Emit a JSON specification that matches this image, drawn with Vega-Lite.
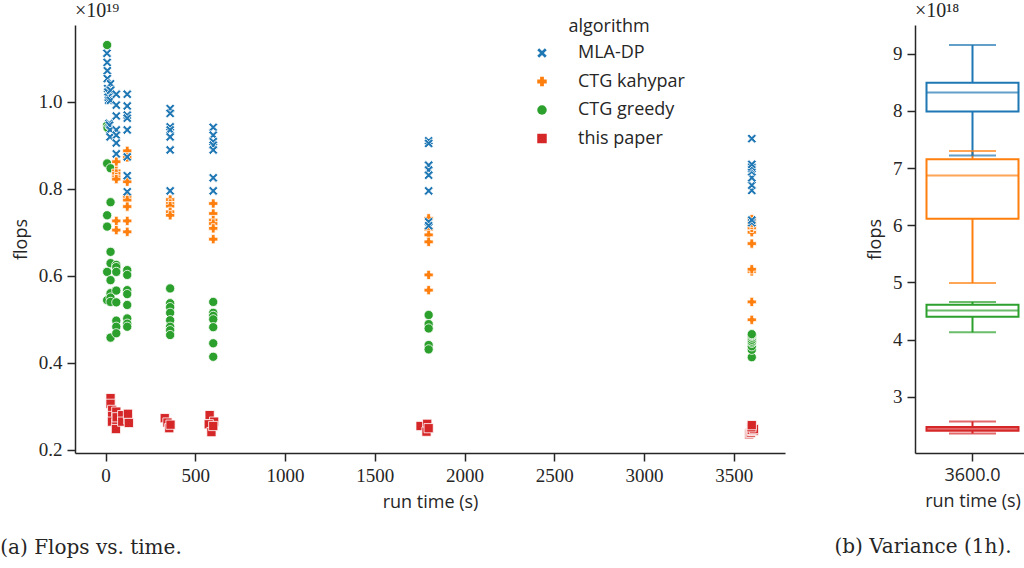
{
  "$schema": "https://vega.github.io/schema/vega-lite/v6.json",
  "padding": {"left": 0, "top": 1, "right": 0, "bottom": 0},
  "config": {
    "view": {"stroke": null},
    "font": "Open Sans",
    "axis": {
      "grid": false,
      "domainColor": "#262626",
      "domainWidth": 1.5,
      "tickColor": "#262626",
      "tickWidth": 1.5,
      "tickSize": 8,
      "labelFont": "Liberation Serif",
      "labelFontSize": 19,
      "labelColor": "#262626",
      "labelPadding": 5,
      "titleFont": "Open Sans",
      "titleFontSize": 18,
      "titleFontWeight": "normal",
      "titleColor": "#262626",
      "titlePadding": 8
    },
    "title": {"color": "#262626", "fontWeight": "normal"}
  },
  "datasets": {
    "runs": [
      {"algorithm": "this paper", "budget": 30, "time": 28, "flops": 3.19e18},
      {"algorithm": "this paper", "budget": 30, "time": 28, "flops": 3.06e18},
      {"algorithm": "this paper", "budget": 30, "time": 37, "flops": 2.92e18},
      {"algorithm": "this paper", "budget": 30, "time": 37, "flops": 2.78e18},
      {"algorithm": "this paper", "budget": 30, "time": 36, "flops": 2.65e18},
      {"algorithm": "this paper", "budget": 60, "time": 60, "flops": 2.88e18},
      {"algorithm": "this paper", "budget": 60, "time": 60, "flops": 2.61e18},
      {"algorithm": "this paper", "budget": 60, "time": 58, "flops": 2.48e18},
      {"algorithm": "this paper", "budget": 60, "time": 62, "flops": 2.75e18},
      {"algorithm": "this paper", "budget": 120, "time": 93, "flops": 2.80e18},
      {"algorithm": "this paper", "budget": 120, "time": 93, "flops": 2.65e18},
      {"algorithm": "this paper", "budget": 120, "time": 127, "flops": 2.70e18},
      {"algorithm": "this paper", "budget": 120, "time": 125, "flops": 2.83e18},
      {"algorithm": "this paper", "budget": 120, "time": 130, "flops": 2.62e18},
      {"algorithm": "this paper", "budget": 360, "time": 330, "flops": 2.73e18},
      {"algorithm": "this paper", "budget": 360, "time": 345, "flops": 2.63e18},
      {"algorithm": "this paper", "budget": 360, "time": 355, "flops": 2.50e18},
      {"algorithm": "this paper", "budget": 360, "time": 362, "flops": 2.58e18},
      {"algorithm": "this paper", "budget": 600, "time": 580, "flops": 2.80e18},
      {"algorithm": "this paper", "budget": 600, "time": 605, "flops": 2.65e18},
      {"algorithm": "this paper", "budget": 600, "time": 575, "flops": 2.59e18},
      {"algorithm": "this paper", "budget": 600, "time": 590, "flops": 2.41e18},
      {"algorithm": "this paper", "budget": 600, "time": 600, "flops": 2.55e18},
      {"algorithm": "this paper", "budget": 1800, "time": 1755, "flops": 2.55e18},
      {"algorithm": "this paper", "budget": 1800, "time": 1792, "flops": 2.60e18},
      {"algorithm": "this paper", "budget": 1800, "time": 1788, "flops": 2.42e18},
      {"algorithm": "this paper", "budget": 1800, "time": 1800, "flops": 2.50e18},
      {"algorithm": "this paper", "budget": 3600, "time": 3585, "flops": 2.36e18},
      {"algorithm": "this paper", "budget": 3600, "time": 3590, "flops": 2.39e18},
      {"algorithm": "this paper", "budget": 3600, "time": 3595, "flops": 2.40e18},
      {"algorithm": "this paper", "budget": 3600, "time": 3600, "flops": 2.44e18},
      {"algorithm": "this paper", "budget": 3600, "time": 3605, "flops": 2.44e18},
      {"algorithm": "this paper", "budget": 3600, "time": 3610, "flops": 2.44e18},
      {"algorithm": "this paper", "budget": 3600, "time": 3600, "flops": 2.46e18},
      {"algorithm": "this paper", "budget": 3600, "time": 3612, "flops": 2.48e18},
      {"algorithm": "this paper", "budget": 3600, "time": 3598, "flops": 2.52e18},
      {"algorithm": "this paper", "budget": 3600, "time": 3600, "flops": 2.57e18},
      {"algorithm": "CTG greedy", "budget": 10, "time": 9, "flops": 1.130e19},
      {"algorithm": "CTG greedy", "budget": 10, "time": 9, "flops": 9.46e18},
      {"algorithm": "CTG greedy", "budget": 10, "time": 11, "flops": 9.40e18},
      {"algorithm": "CTG greedy", "budget": 10, "time": 9, "flops": 8.58e18},
      {"algorithm": "CTG greedy", "budget": 10, "time": 9, "flops": 7.39e18},
      {"algorithm": "CTG greedy", "budget": 10, "time": 9, "flops": 7.13e18},
      {"algorithm": "CTG greedy", "budget": 10, "time": 9, "flops": 6.09e18},
      {"algorithm": "CTG greedy", "budget": 10, "time": 9, "flops": 5.44e18},
      {"algorithm": "CTG greedy", "budget": 30, "time": 28, "flops": 8.47e18},
      {"algorithm": "CTG greedy", "budget": 30, "time": 28, "flops": 7.69e18},
      {"algorithm": "CTG greedy", "budget": 30, "time": 28, "flops": 6.55e18},
      {"algorithm": "CTG greedy", "budget": 30, "time": 28, "flops": 6.29e18},
      {"algorithm": "CTG greedy", "budget": 30, "time": 28, "flops": 5.90e18},
      {"algorithm": "CTG greedy", "budget": 30, "time": 28, "flops": 5.60e18},
      {"algorithm": "CTG greedy", "budget": 30, "time": 28, "flops": 5.50e18},
      {"algorithm": "CTG greedy", "budget": 30, "time": 28, "flops": 5.40e18},
      {"algorithm": "CTG greedy", "budget": 30, "time": 28, "flops": 4.58e18},
      {"algorithm": "CTG greedy", "budget": 60, "time": 60, "flops": 6.25e18},
      {"algorithm": "CTG greedy", "budget": 60, "time": 60, "flops": 6.20e18},
      {"algorithm": "CTG greedy", "budget": 60, "time": 60, "flops": 6.09e18},
      {"algorithm": "CTG greedy", "budget": 60, "time": 60, "flops": 5.66e18},
      {"algorithm": "CTG greedy", "budget": 60, "time": 60, "flops": 5.39e18},
      {"algorithm": "CTG greedy", "budget": 60, "time": 60, "flops": 4.97e18},
      {"algorithm": "CTG greedy", "budget": 60, "time": 60, "flops": 4.83e18},
      {"algorithm": "CTG greedy", "budget": 60, "time": 60, "flops": 4.68e18},
      {"algorithm": "CTG greedy", "budget": 120, "time": 121, "flops": 6.13e18},
      {"algorithm": "CTG greedy", "budget": 120, "time": 121, "flops": 6.02e18},
      {"algorithm": "CTG greedy", "budget": 120, "time": 121, "flops": 5.67e18},
      {"algorithm": "CTG greedy", "budget": 120, "time": 121, "flops": 5.58e18},
      {"algorithm": "CTG greedy", "budget": 120, "time": 121, "flops": 5.33e18},
      {"algorithm": "CTG greedy", "budget": 120, "time": 121, "flops": 5.02e18},
      {"algorithm": "CTG greedy", "budget": 120, "time": 121, "flops": 4.90e18},
      {"algorithm": "CTG greedy", "budget": 120, "time": 121, "flops": 4.83e18},
      {"algorithm": "CTG greedy", "budget": 360, "time": 360, "flops": 5.71e18},
      {"algorithm": "CTG greedy", "budget": 360, "time": 360, "flops": 5.37e18},
      {"algorithm": "CTG greedy", "budget": 360, "time": 360, "flops": 5.28e18},
      {"algorithm": "CTG greedy", "budget": 360, "time": 360, "flops": 5.15e18},
      {"algorithm": "CTG greedy", "budget": 360, "time": 360, "flops": 4.98e18},
      {"algorithm": "CTG greedy", "budget": 360, "time": 360, "flops": 4.83e18},
      {"algorithm": "CTG greedy", "budget": 360, "time": 360, "flops": 4.75e18},
      {"algorithm": "CTG greedy", "budget": 360, "time": 360, "flops": 4.64e18},
      {"algorithm": "CTG greedy", "budget": 600, "time": 600, "flops": 5.40e18},
      {"algorithm": "CTG greedy", "budget": 600, "time": 600, "flops": 5.15e18},
      {"algorithm": "CTG greedy", "budget": 600, "time": 600, "flops": 5.08e18},
      {"algorithm": "CTG greedy", "budget": 600, "time": 600, "flops": 5.00e18},
      {"algorithm": "CTG greedy", "budget": 600, "time": 600, "flops": 4.82e18},
      {"algorithm": "CTG greedy", "budget": 600, "time": 600, "flops": 4.45e18},
      {"algorithm": "CTG greedy", "budget": 600, "time": 600, "flops": 4.14e18},
      {"algorithm": "CTG greedy", "budget": 1800, "time": 1800, "flops": 5.10e18},
      {"algorithm": "CTG greedy", "budget": 1800, "time": 1800, "flops": 4.89e18},
      {"algorithm": "CTG greedy", "budget": 1800, "time": 1800, "flops": 4.79e18},
      {"algorithm": "CTG greedy", "budget": 1800, "time": 1800, "flops": 4.41e18},
      {"algorithm": "CTG greedy", "budget": 1800, "time": 1800, "flops": 4.31e18},
      {"algorithm": "CTG greedy", "budget": 3600, "time": 3600, "flops": 4.13e18},
      {"algorithm": "CTG greedy", "budget": 3600, "time": 3600, "flops": 4.30e18},
      {"algorithm": "CTG greedy", "budget": 3600, "time": 3600, "flops": 4.38e18},
      {"algorithm": "CTG greedy", "budget": 3600, "time": 3600, "flops": 4.46e18},
      {"algorithm": "CTG greedy", "budget": 3600, "time": 3600, "flops": 4.49e18},
      {"algorithm": "CTG greedy", "budget": 3600, "time": 3600, "flops": 4.53e18},
      {"algorithm": "CTG greedy", "budget": 3600, "time": 3600, "flops": 4.58e18},
      {"algorithm": "CTG greedy", "budget": 3600, "time": 3600, "flops": 4.62e18},
      {"algorithm": "CTG greedy", "budget": 3600, "time": 3600, "flops": 4.64e18},
      {"algorithm": "CTG greedy", "budget": 3600, "time": 3600, "flops": 4.66e18},
      {"algorithm": "CTG kahypar", "budget": 60, "time": 60, "flops": 8.62e18},
      {"algorithm": "CTG kahypar", "budget": 60, "time": 60, "flops": 8.41e18},
      {"algorithm": "CTG kahypar", "budget": 60, "time": 60, "flops": 8.35e18},
      {"algorithm": "CTG kahypar", "budget": 60, "time": 60, "flops": 8.27e18},
      {"algorithm": "CTG kahypar", "budget": 60, "time": 60, "flops": 8.22e18},
      {"algorithm": "CTG kahypar", "budget": 60, "time": 60, "flops": 7.26e18},
      {"algorithm": "CTG kahypar", "budget": 60, "time": 60, "flops": 7.05e18},
      {"algorithm": "CTG kahypar", "budget": 120, "time": 121, "flops": 8.87e18},
      {"algorithm": "CTG kahypar", "budget": 120, "time": 121, "flops": 8.72e18},
      {"algorithm": "CTG kahypar", "budget": 120, "time": 121, "flops": 8.16e18},
      {"algorithm": "CTG kahypar", "budget": 120, "time": 121, "flops": 7.82e18},
      {"algorithm": "CTG kahypar", "budget": 120, "time": 121, "flops": 7.74e18},
      {"algorithm": "CTG kahypar", "budget": 120, "time": 121, "flops": 7.59e18},
      {"algorithm": "CTG kahypar", "budget": 120, "time": 121, "flops": 7.26e18},
      {"algorithm": "CTG kahypar", "budget": 120, "time": 121, "flops": 7.01e18},
      {"algorithm": "CTG kahypar", "budget": 360, "time": 360, "flops": 7.75e18},
      {"algorithm": "CTG kahypar", "budget": 360, "time": 360, "flops": 7.66e18},
      {"algorithm": "CTG kahypar", "budget": 360, "time": 360, "flops": 7.60e18},
      {"algorithm": "CTG kahypar", "budget": 360, "time": 360, "flops": 7.47e18},
      {"algorithm": "CTG kahypar", "budget": 360, "time": 360, "flops": 7.39e18},
      {"algorithm": "CTG kahypar", "budget": 600, "time": 600, "flops": 7.66e18},
      {"algorithm": "CTG kahypar", "budget": 600, "time": 600, "flops": 7.43e18},
      {"algorithm": "CTG kahypar", "budget": 600, "time": 600, "flops": 7.28e18},
      {"algorithm": "CTG kahypar", "budget": 600, "time": 600, "flops": 7.20e18},
      {"algorithm": "CTG kahypar", "budget": 600, "time": 600, "flops": 7.09e18},
      {"algorithm": "CTG kahypar", "budget": 600, "time": 600, "flops": 6.84e18},
      {"algorithm": "CTG kahypar", "budget": 1800, "time": 1800, "flops": 7.32e18},
      {"algorithm": "CTG kahypar", "budget": 1800, "time": 1800, "flops": 7.07e18},
      {"algorithm": "CTG kahypar", "budget": 1800, "time": 1800, "flops": 6.94e18},
      {"algorithm": "CTG kahypar", "budget": 1800, "time": 1800, "flops": 6.78e18},
      {"algorithm": "CTG kahypar", "budget": 1800, "time": 1800, "flops": 6.02e18},
      {"algorithm": "CTG kahypar", "budget": 1800, "time": 1800, "flops": 5.67e18},
      {"algorithm": "CTG kahypar", "budget": 3600, "time": 3600, "flops": 4.99e18},
      {"algorithm": "CTG kahypar", "budget": 3600, "time": 3600, "flops": 5.40e18},
      {"algorithm": "CTG kahypar", "budget": 3600, "time": 3600, "flops": 6.10e18},
      {"algorithm": "CTG kahypar", "budget": 3600, "time": 3600, "flops": 6.15e18},
      {"algorithm": "CTG kahypar", "budget": 3600, "time": 3600, "flops": 6.74e18},
      {"algorithm": "CTG kahypar", "budget": 3600, "time": 3600, "flops": 7.00e18},
      {"algorithm": "CTG kahypar", "budget": 3600, "time": 3600, "flops": 7.10e18},
      {"algorithm": "CTG kahypar", "budget": 3600, "time": 3600, "flops": 7.17e18},
      {"algorithm": "CTG kahypar", "budget": 3600, "time": 3600, "flops": 7.22e18},
      {"algorithm": "CTG kahypar", "budget": 3600, "time": 3600, "flops": 7.30e18},
      {"algorithm": "MLA-DP", "budget": 10, "time": 8, "flops": 1.111e19},
      {"algorithm": "MLA-DP", "budget": 10, "time": 9, "flops": 1.090e19},
      {"algorithm": "MLA-DP", "budget": 10, "time": 10, "flops": 1.071e19},
      {"algorithm": "MLA-DP", "budget": 10, "time": 10, "flops": 1.053e19},
      {"algorithm": "MLA-DP", "budget": 10, "time": 12, "flops": 1.030e19},
      {"algorithm": "MLA-DP", "budget": 10, "time": 13, "flops": 1.022e19},
      {"algorithm": "MLA-DP", "budget": 10, "time": 15, "flops": 1.010e19},
      {"algorithm": "MLA-DP", "budget": 10, "time": 17, "flops": 1.003e19},
      {"algorithm": "MLA-DP", "budget": 30, "time": 28, "flops": 1.041e19},
      {"algorithm": "MLA-DP", "budget": 30, "time": 28, "flops": 1.026e19},
      {"algorithm": "MLA-DP", "budget": 30, "time": 28, "flops": 1.003e19},
      {"algorithm": "MLA-DP", "budget": 30, "time": 20, "flops": 9.50e18},
      {"algorithm": "MLA-DP", "budget": 30, "time": 22, "flops": 9.46e18},
      {"algorithm": "MLA-DP", "budget": 30, "time": 25, "flops": 9.35e18},
      {"algorithm": "MLA-DP", "budget": 30, "time": 25, "flops": 9.19e18},
      {"algorithm": "MLA-DP", "budget": 60, "time": 60, "flops": 1.017e19},
      {"algorithm": "MLA-DP", "budget": 60, "time": 60, "flops": 9.92e18},
      {"algorithm": "MLA-DP", "budget": 60, "time": 60, "flops": 9.67e18},
      {"algorithm": "MLA-DP", "budget": 60, "time": 60, "flops": 9.35e18},
      {"algorithm": "MLA-DP", "budget": 60, "time": 60, "flops": 9.23e18},
      {"algorithm": "MLA-DP", "budget": 60, "time": 60, "flops": 9.05e18},
      {"algorithm": "MLA-DP", "budget": 60, "time": 60, "flops": 8.80e18},
      {"algorithm": "MLA-DP", "budget": 120, "time": 121, "flops": 1.017e19},
      {"algorithm": "MLA-DP", "budget": 120, "time": 121, "flops": 9.90e18},
      {"algorithm": "MLA-DP", "budget": 120, "time": 121, "flops": 9.69e18},
      {"algorithm": "MLA-DP", "budget": 120, "time": 121, "flops": 9.62e18},
      {"algorithm": "MLA-DP", "budget": 120, "time": 121, "flops": 9.35e18},
      {"algorithm": "MLA-DP", "budget": 120, "time": 121, "flops": 8.73e18},
      {"algorithm": "MLA-DP", "budget": 120, "time": 121, "flops": 8.30e18},
      {"algorithm": "MLA-DP", "budget": 120, "time": 121, "flops": 7.93e18},
      {"algorithm": "MLA-DP", "budget": 360, "time": 360, "flops": 9.84e18},
      {"algorithm": "MLA-DP", "budget": 360, "time": 360, "flops": 9.73e18},
      {"algorithm": "MLA-DP", "budget": 360, "time": 360, "flops": 9.42e18},
      {"algorithm": "MLA-DP", "budget": 360, "time": 360, "flops": 9.35e18},
      {"algorithm": "MLA-DP", "budget": 360, "time": 360, "flops": 9.19e18},
      {"algorithm": "MLA-DP", "budget": 360, "time": 360, "flops": 8.89e18},
      {"algorithm": "MLA-DP", "budget": 360, "time": 360, "flops": 7.95e18},
      {"algorithm": "MLA-DP", "budget": 600, "time": 600, "flops": 9.41e18},
      {"algorithm": "MLA-DP", "budget": 600, "time": 600, "flops": 9.23e18},
      {"algorithm": "MLA-DP", "budget": 600, "time": 600, "flops": 9.08e18},
      {"algorithm": "MLA-DP", "budget": 600, "time": 600, "flops": 9.00e18},
      {"algorithm": "MLA-DP", "budget": 600, "time": 600, "flops": 8.89e18},
      {"algorithm": "MLA-DP", "budget": 600, "time": 600, "flops": 8.25e18},
      {"algorithm": "MLA-DP", "budget": 600, "time": 600, "flops": 7.95e18},
      {"algorithm": "MLA-DP", "budget": 1800, "time": 1800, "flops": 9.10e18},
      {"algorithm": "MLA-DP", "budget": 1800, "time": 1800, "flops": 9.04e18},
      {"algorithm": "MLA-DP", "budget": 1800, "time": 1800, "flops": 8.54e18},
      {"algorithm": "MLA-DP", "budget": 1800, "time": 1800, "flops": 8.43e18},
      {"algorithm": "MLA-DP", "budget": 1800, "time": 1800, "flops": 8.31e18},
      {"algorithm": "MLA-DP", "budget": 1800, "time": 1800, "flops": 7.95e18},
      {"algorithm": "MLA-DP", "budget": 1800, "time": 1800, "flops": 7.24e18},
      {"algorithm": "MLA-DP", "budget": 1800, "time": 1800, "flops": 7.15e18},
      {"algorithm": "MLA-DP", "budget": 3600, "time": 3600, "flops": 7.22e18},
      {"algorithm": "MLA-DP", "budget": 3600, "time": 3600, "flops": 7.28e18},
      {"algorithm": "MLA-DP", "budget": 3600, "time": 3600, "flops": 7.96e18},
      {"algorithm": "MLA-DP", "budget": 3600, "time": 3600, "flops": 8.08e18},
      {"algorithm": "MLA-DP", "budget": 3600, "time": 3600, "flops": 8.25e18},
      {"algorithm": "MLA-DP", "budget": 3600, "time": 3600, "flops": 8.39e18},
      {"algorithm": "MLA-DP", "budget": 3600, "time": 3600, "flops": 8.46e18},
      {"algorithm": "MLA-DP", "budget": 3600, "time": 3600, "flops": 8.50e18},
      {"algorithm": "MLA-DP", "budget": 3600, "time": 3600, "flops": 8.56e18},
      {"algorithm": "MLA-DP", "budget": 3600, "time": 3600, "flops": 9.15e18}
    ]
  },
  "spacing": 49,
  "hconcat": [
    {
      "title": {"text": "(a) Flops vs. time.", "orient": "bottom", "anchor": "start", "frame": "bounds", "font": "DejaVu Serif", "fontSize": 20, "fontWeight": "normal", "dx": -12, "offset": 27},
      "vconcat": [
        {
          "width": 710,
          "height": 428,
          "title": {"text": "×10¹⁹", "anchor": "start", "frame": "group", "font": "Liberation Serif", "fontSize": 20, "fontWeight": "normal", "offset": 4},
          "data": {"name": "runs"},
          "mark": {"type": "point", "filled": true, "opacity": 1, "size": 85, "stroke": "white", "strokeWidth": 0.8},
          "encoding": {
            "x": {"field": "time", "type": "quantitative", "title": "run time (s)",
                  "scale": {"domain": [-170, 3785], "nice": false, "zero": false},
                  "axis": {"values": [0, 500, 1000, 1500, 2000, 2500, 3000, 3500], "format": "d"}},
            "y": {"field": "flops", "type": "quantitative", "title": "flops",
                  "scale": {"domain": [1.93e18, 1.176e19], "nice": false, "zero": false},
                  "axis": {"values": [2e18, 4e18, 6e18, 8e18, 1e19], "labelExpr": "format(datum.value / 1e19, '.1f')"}},
            "color": {"field": "algorithm", "type": "nominal",
                      "scale": {"domain": ["MLA-DP", "CTG kahypar", "CTG greedy", "this paper"], "range": ["#1f77b4", "#ff7f0e", "#2ca02c", "#d62728"]},
                      "legend": {"title": "algorithm", "orient": "none", "legendX": 458, "legendY": -7, "titleAnchor": "middle", "titleFont": "Open Sans", "titleFontSize": 18, "titleFontWeight": "normal", "titleColor": "#262626", "labelFont": "Open Sans", "labelFontSize": 18, "labelColor": "#262626", "symbolSize": 90, "labelOffset": 27, "rowPadding": 10.5, "titlePadding": 8, "symbolStrokeWidth": 0}},
            "shape": {"field": "algorithm", "type": "nominal",
                      "scale": {"domain": ["MLA-DP", "CTG kahypar", "CTG greedy", "this paper"], "range": ["M-1,-0.6L-0.6,-1L0,-0.4L0.6,-1L1,-0.6L0.4,0L1,0.6L0.6,1L0,0.4L-0.6,1L-1,0.6L-0.4,0Z", "cross", "circle", "square"]},
                      "legend": {"title": "algorithm"}}
          }
        }
      ]
    },
    {
      "title": {"text": "(b) Variance (1h).", "orient": "bottom", "anchor": "start", "frame": "bounds", "font": "DejaVu Serif", "fontSize": 20, "fontWeight": "normal", "dx": -32, "offset": 27},
      "vconcat": [
        {
          "width": 115,
          "height": 428,
          "title": {"text": "×10¹⁸", "anchor": "start", "frame": "group", "font": "Liberation Serif", "fontSize": 20, "fontWeight": "normal", "offset": 4},
          "data": {"name": "runs"},
          "transform": [
            {"filter": "datum.budget == 3600"},
            {"aggregate": [
              {"op": "min", "field": "flops", "as": "lo"},
              {"op": "q1", "field": "flops", "as": "q1"},
              {"op": "median", "field": "flops", "as": "med"},
              {"op": "q3", "field": "flops", "as": "q3"},
              {"op": "max", "field": "flops", "as": "hi"}
            ], "groupby": ["algorithm", "budget"]}
          ],
          "encoding": {
            "x": {"field": "budget", "type": "nominal", "title": "run time (s)",
                  "scale": {"paddingInner": 0.2, "paddingOuter": 0.1},
                  "axis": {"labelExpr": "format(datum.value, '.1f')", "labelFont": "Open Sans", "labelFontSize": 18, "labelAngle": 0}}
          },
          "layer": [
            {
              "mark": {"type": "rule", "strokeWidth": 2},
              "encoding": {
                "y": {"field": "lo", "type": "quantitative", "title": "flops",
                      "scale": {"domain": [2.02e18, 9.5e18], "nice": false, "zero": false},
                      "axis": {"values": [3e18, 4e18, 5e18, 6e18, 7e18, 8e18, 9e18], "labelExpr": "format(datum.value / 1e18, 'd')"}},
                "y2": {"field": "hi"},
                "color": {"field": "algorithm", "type": "nominal", "legend": null,
                          "scale": {"domain": ["MLA-DP", "CTG kahypar", "CTG greedy", "this paper"], "range": ["#1f77b4", "#ff7f0e", "#2ca02c", "#d62728"]}}
              }
            },
            {
              "mark": {"type": "bar", "fill": "white", "strokeWidth": 2},
              "encoding": {
                "y": {"field": "q1", "type": "quantitative", "title": "flops"},
                "y2": {"field": "q3"},
                "stroke": {"field": "algorithm", "type": "nominal", "legend": null,
                           "scale": {"domain": ["MLA-DP", "CTG kahypar", "CTG greedy", "this paper"], "range": ["#1f77b4", "#ff7f0e", "#2ca02c", "#d62728"]}}
              }
            },
            {
              "mark": {"type": "tick", "thickness": 2, "size": 92},
              "encoding": {
                "y": {"field": "med", "type": "quantitative", "title": "flops"},
                "color": {"field": "algorithm", "type": "nominal", "legend": null}
              }
            },
            {
              "mark": {"type": "tick", "thickness": 2, "size": 47},
              "encoding": {
                "y": {"field": "lo", "type": "quantitative", "title": "flops"},
                "color": {"field": "algorithm", "type": "nominal", "legend": null}
              }
            },
            {
              "mark": {"type": "tick", "thickness": 2, "size": 47},
              "encoding": {
                "y": {"field": "hi", "type": "quantitative", "title": "flops"},
                "color": {"field": "algorithm", "type": "nominal", "legend": null}
              }
            }
          ]
        }
      ]
    }
  ]
}
